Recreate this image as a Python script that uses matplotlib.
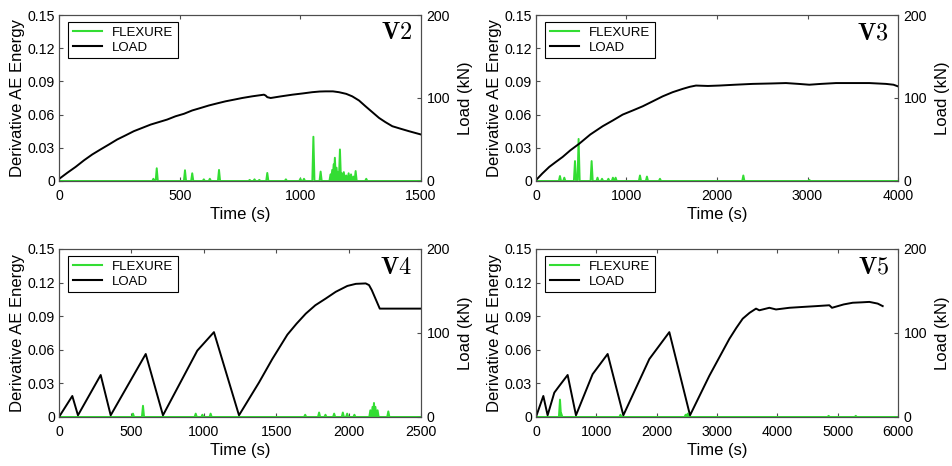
import numpy as np
import matplotlib
matplotlib.use("Agg")
import matplotlib.pyplot as plt
from matplotlib.lines import Line2D

plt.rcParams['font.family'] = ['Liberation Sans', 'DejaVu Sans']
plt.rcParams['mathtext.fontset'] = 'cm'

GREEN = '#33dd33'
FRAME = '#4d4d4d'

# ---- V2 ----
v2_load_t = [0, 35, 69, 104, 138, 172, 207, 241, 276, 310, 345, 380, 414, 448, 483, 518,
             552, 587, 621, 655, 690, 725, 759, 800, 849, 856, 863, 877, 920,
             967, 1010, 1049, 1080, 1105, 1135, 1160, 1190, 1215, 1243, 1270, 1298,
             1326, 1352, 1381, 1415, 1450, 1475, 1500]
v2_load_kn = [2.4, 10, 17, 25, 32, 38, 44, 50, 55, 60, 64, 68, 71, 74, 78, 81,
              85, 88, 91, 93.5, 96, 98, 100, 102, 104, 103, 101, 100, 102,
              104, 105.5, 107, 107.8, 108, 108, 107, 105, 102, 97, 90, 83,
              76, 71, 66, 63, 60, 58, 56]
v2_flex_t = [391, 405, 522, 552, 600, 625, 663, 790, 810, 830, 863, 940, 1000, 1015,
             1054, 1084, 1125, 1132, 1138, 1143, 1150, 1157, 1164, 1172, 1180, 1190,
             1200, 1210, 1220, 1229, 1273]
v2_flex_e = [0.002, 0.0115, 0.0097, 0.007, 0.0015, 0.002, 0.010, 0.001, 0.0015, 0.001,
             0.0073, 0.0015, 0.002, 0.002,
             0.040, 0.0085, 0.006, 0.010, 0.015, 0.021, 0.012, 0.008, 0.0285, 0.007,
             0.008, 0.005, 0.007, 0.006, 0.004, 0.009, 0.002]

# ---- V3 ----
v3_load_t = [0, 70, 147, 220, 295, 380, 479, 600, 737, 850, 958, 1070, 1179, 1290, 1400,
             1510, 1621, 1700, 1768, 1900, 2026, 2200, 2394, 2600, 2762,
             2900, 3020, 3150, 3315, 3500, 3683, 3867, 3950, 4000]
v3_load_kn = [1, 9, 17, 23, 29, 37, 45, 56, 66, 73, 80, 85, 90, 96, 102,
              107, 111, 113.5, 115, 114.5, 115, 116, 117, 117.5, 118,
              117, 116, 117, 118, 118, 118, 117, 116, 114]
v3_flex_t = [265, 313, 431, 471, 615, 680, 730, 800, 850, 880, 1149, 1226, 1370, 2291, 3020]
v3_flex_e = [0.0045, 0.003, 0.018, 0.038, 0.018, 0.003, 0.002, 0.002, 0.003, 0.003,
             0.005, 0.004, 0.002, 0.005, 0.001]

# ---- V4 ----
v4_load_t = [0, 92, 131, 288, 357, 599, 718, 955, 1070, 1243, 1381, 1473, 1577, 1640,
             1704, 1770, 1842, 1911, 1991, 2050, 2118, 2141, 2160, 2175, 2195, 2215, 2500]
v4_load_kn = [0, 25, 2, 50, 2, 75, 2, 79, 101, 2, 41, 69, 98, 111,
              123, 133, 141, 149, 156, 158.5, 159, 157, 151, 145, 137, 129, 129]
v4_flex_t = [511, 580, 944, 990, 1047, 1700, 1796, 1840, 1900, 1960, 1990, 2040,
             2150, 2165, 2175, 2185, 2200, 2274]
v4_flex_e = [0.003, 0.010, 0.003, 0.002, 0.003, 0.002, 0.004, 0.002, 0.003, 0.004,
             0.003, 0.002, 0.006, 0.009, 0.0125, 0.009, 0.006, 0.005]

# ---- V5 ----
v5_load_t = [0, 122, 193, 304, 387, 525, 663, 939, 1188, 1448, 1879, 2210, 2553, 2873,
             3205, 3320, 3426, 3540, 3647, 3702, 3868, 3978, 4200, 4420, 4650, 4862, 4906,
             5100, 5249, 5400, 5525, 5663, 5746]
v5_load_kn = [0, 25, 2, 29, 37, 50, 2, 51, 75, 2, 69, 101, 2, 49,
              93, 106, 117, 124, 129, 127, 130, 128, 130, 131, 132, 133, 130,
              134, 136, 136.5, 137, 135, 132]
v5_flex_t = [398, 420, 1400, 2480, 2514, 4850, 5300]
v5_flex_e = [0.0155, 0.003, 0.002, 0.002, 0.003, 0.001, 0.001]

panels = [
    ('V2', 1500, [0, 500, 1000, 1500], v2_load_t, v2_load_kn, v2_flex_t, v2_flex_e),
    ('V3', 4000, [0, 1000, 2000, 3000, 4000], v3_load_t, v3_load_kn, v3_flex_t, v3_flex_e),
    ('V4', 2500, [0, 500, 1000, 1500, 2000, 2500], v4_load_t, v4_load_kn, v4_flex_t, v4_flex_e),
    ('V5', 6000, [0, 1000, 2000, 3000, 4000, 5000, 6000], v5_load_t, v5_load_kn, v5_flex_t, v5_flex_e),
]

# axes rectangles in figure fractions (left, bottom, width, height)
rects = [
    (0.0619, 0.6116, 0.3799, 0.3562),
    (0.5624, 0.6116, 0.3799, 0.3562),
    (0.0619, 0.1052, 0.3799, 0.3605),
    (0.5624, 0.1052, 0.3799, 0.3605),
]


def spikes(ts, es, tmax, half):
    # zero baseline with narrow triangular peaks at each event
    x, y = [0], [0]
    for t, e in zip(ts, es):
        x += [t - half, t, t + half]
        y += [0, e, 0]
    x.append(tmax)
    y.append(0)
    return x, y


fig = plt.figure(figsize=(9.53, 4.66), dpi=100)

for (name, tmax, xt, lt, lk, ft, fe), r in zip(panels, rects):
    ax = fig.add_axes(r)
    fx, fy = spikes(ft, fe, tmax, tmax * 0.003)
    ax.plot(fx, fy, color=GREEN, lw=1.4)
    ax.set_xlim(0, tmax)
    ax.set_ylim(0, 0.15)
    ax.set_xticks(xt)
    ax.set_yticks([0, 0.03, 0.06, 0.09, 0.12, 0.15])
    ax.set_yticklabels(['0', '0.03', '0.06', '0.09', '0.12', '0.15'])
    ax.tick_params(direction='in', top=True, right=True, length=3, width=0.8,
                   labelsize=10.2, color=FRAME, pad=3)
    ax.tick_params(axis='x', pad=6)
    ax.set_xlabel('Time (s)', fontsize=12, labelpad=3)
    ax.set_ylabel('Derivative AE Energy', fontsize=12, labelpad=2)
    for s in ax.spines.values():
        s.set_color(FRAME)
        s.set_linewidth(0.8)

    ax2 = ax.twinx()
    ax2.plot(lt, lk, color='black', lw=1.4)
    ax2.set_ylim(0, 200)
    ax2.set_yticks([0, 100, 200])
    ax2.tick_params(direction='in', length=3, width=0.8, labelsize=10.2,
                    color=FRAME, pad=4)
    ax2.set_ylabel('Load (kN)', fontsize=12, labelpad=6)
    for s in ax2.spines.values():
        s.set_color(FRAME)
        s.set_linewidth(0.8)

    handles = [Line2D([], [], color=GREEN, lw=1.5), Line2D([], [], color='black', lw=1.5)]
    leg = ax2.legend(handles, ['FLEXURE', 'LOAD'], loc='upper left',
                     bbox_to_anchor=(0.025, 0.958), borderaxespad=0, fontsize=9.5,
                     fancybox=False, framealpha=1, edgecolor='black',
                     handlelength=2.2, borderpad=0.35, labelspacing=0.2,
                     handletextpad=0.8)
    leg.get_frame().set_linewidth(0.8)

    ax2.text(0.975, 0.955, r'$\mathbf{%s}$' % name, transform=ax2.transAxes,
             ha='right', va='top', fontsize=17.5)

fig.savefig('out.png', dpi=100)
